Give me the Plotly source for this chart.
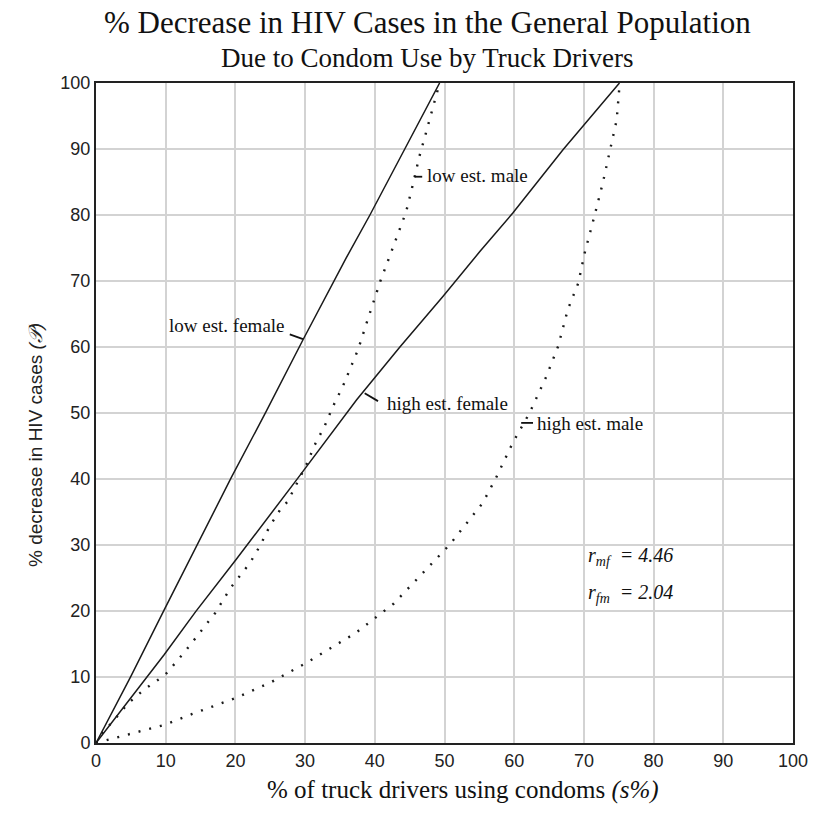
import plotly.graph_objects as go

# ---- data ----
low_female_x = [0, 5.0, 9.8, 14.9, 19.4, 24.4, 29.7, 35.9, 39.3, 44.3, 49.3]
low_female_y = [0, 10.1, 20.2, 30.8, 40.2, 50.2, 61.1, 73.5, 80.0, 90.0, 100]

high_female_x = [0, 9.8, 14.3, 20.1, 28.8, 37.4, 43.6, 49.8, 55.1, 59.8, 67.0, 75.1]
high_female_y = [0, 13.4, 19.9, 27.8, 39.9, 52.0, 60.0, 67.7, 74.5, 80.3, 89.9, 100]

low_male_x = [0, 0.9, 2.6, 4.7, 6.9, 9.9, 12.8, 15.3, 17.1, 19.3, 22.1, 23.6, 24.9, 26.4,
              27.5, 30.2, 31.4, 32.8, 34.0, 35.4, 37.6, 39.0, 40.8, 42.4, 44.5, 45.5,
              46.4, 47.2, 48.1, 48.8, 49.3]
low_male_y = [0, 1.5, 3.5, 6.1, 8.1, 10.3, 13.9, 17.2, 19.7, 23.5, 27.3, 30.0, 32.8, 35.3,
              36.6, 42.2, 45.2, 48.0, 51.0, 54.0, 59.6, 64.2, 70.0, 74.5, 80.5, 84.8,
              88.9, 91.9, 95.4, 98.0, 100]

high_male_x = [0, 6.2, 10.0, 13.8, 17.6, 20.0, 25.1, 30.1, 33.7, 37.3, 40.6, 42.7, 50.7,
               55.5, 57.4, 59.8, 62.2, 64.6, 66.3, 67.7, 69.2, 70.1, 71.5, 72.7, 73.7,
               74.7, 75.1]
high_male_y = [0, 1.8, 2.8, 4.4, 5.9, 6.8, 9.2, 12.1, 14.4, 16.7, 19.4, 21.1, 30.0,
               36.4, 40.2, 45.5, 50.0, 55.5, 60.1, 65.7, 69.7, 74.2, 79.8, 84.8, 89.6,
               94.4, 99.5]

tick_vals = [0, 10, 20, 30, 40, 50, 60, 70, 80, 90, 100]
tick_text = [str(v) for v in tick_vals]

series_labels = ["low est. female", "high est. female", "low est. male", "high est. male"]
r_mf = "4.46"
r_fm = "2.04"
title_lines = ["% Decrease in HIV Cases in the General Population",
               "Due to Condom Use by Truck Drivers"]

SERIF = "Liberation Serif, Times New Roman, serif"
SANS = "Liberation Sans, Arial, sans-serif"

fig = go.Figure()
solid = dict(color="#1a1a1a", width=1.5)
dotted = dict(color="#1a1a1a", width=2.4, dash="2px,9px")
fig.add_trace(go.Scatter(x=low_female_x, y=low_female_y, mode="lines", line=solid,
                         name=series_labels[0], hoverinfo="skip"))
fig.add_trace(go.Scatter(x=high_female_x, y=high_female_y, mode="lines", line=solid,
                         name=series_labels[1], hoverinfo="skip"))
fig.add_trace(go.Scatter(x=low_male_x, y=low_male_y, mode="lines", line=dotted,
                         name=series_labels[2], hoverinfo="skip"))
fig.add_trace(go.Scatter(x=high_male_x, y=high_male_y, mode="lines", line=dotted,
                         name=series_labels[3], hoverinfo="skip"))

# label leader ticks
leaders = [
    ((27.8, 61.9), (29.7, 61.2)),
    ((38.55, 53.0), (40.46, 51.8)),
    ((45.7, 85.8), (46.8, 85.8)),
    ((61.0, 48.5), (62.7, 48.5)),
]
for (x0, y0), (x1, y1) in leaders:
    fig.add_shape(type="line", x0=x0, y0=y0, x1=x1, y1=y1, xref="x", yref="y",
                  line=dict(color="#111111", width=1.8))

lab_font = dict(family=SERIF, size=19, color="#111111")
fig.add_annotation(x=27.4, y=63.2, text=series_labels[0], showarrow=False,
                   xanchor="right", yanchor="middle", font=lab_font)
fig.add_annotation(x=41.4, y=51.4, text=series_labels[1], showarrow=False,
                   xanchor="left", yanchor="middle", font=lab_font)
fig.add_annotation(x=47.2, y=86.0, text=series_labels[2], showarrow=False,
                   xanchor="left", yanchor="middle", font=lab_font)
fig.add_annotation(x=63.0, y=48.4, text=series_labels[3], showarrow=False,
                   xanchor="left", yanchor="middle", font=lab_font)

r_font = dict(family=SERIF, size=20, color="#111111")
fig.add_annotation(x=70.3, y=28.3, text="<i>r<sub>mf</sub>  = " + r_mf + "</i>",
                   showarrow=False, xanchor="left", yanchor="middle", font=r_font)
fig.add_annotation(x=70.3, y=22.7, text="<i>r<sub>fm</sub>  = " + r_fm + "</i>",
                   showarrow=False, xanchor="left", yanchor="middle", font=r_font)

# titles
fig.add_annotation(x=0.475, y=1.0915, xref="paper", yref="paper", text=title_lines[0],
                   showarrow=False, xanchor="center", yanchor="middle",
                   font=dict(family=SERIF, size=31, color="#111111"))
fig.add_annotation(x=0.475, y=1.038, xref="paper", yref="paper", text=title_lines[1],
                   showarrow=False, xanchor="center", yanchor="middle",
                   font=dict(family=SERIF, size=27, color="#111111"))

# axis titles
fig.add_annotation(x=0.526, y=-0.071, xref="paper", yref="paper",
                   text="% of truck drivers using condoms <i>(s%)</i>", showarrow=False,
                   xanchor="center", yanchor="middle",
                   font=dict(family=SERIF, size=25, color="#111111"))
fig.add_annotation(x=-0.087, y=0.452, xref="paper", yref="paper",
                   text="% decrease in HIV cases <i>(𝒫)</i>", showarrow=False,
                   textangle=-90, xanchor="center", yanchor="middle",
                   font=dict(family=SANS, size=19, color="#222222"))

# the page body adds an 8px offset, so the figure is sized to fit inside the window
fig.update_layout(
    width=810, height=823,
    margin=dict(l=88, r=25, t=75, b=88, autoexpand=False),
    paper_bgcolor="white", plot_bgcolor="white",
    showlegend=False,
)
axis_common = dict(range=[0, 100], tickmode="array", tickvals=tick_vals, ticktext=tick_text,
                   showgrid=True, gridcolor="#d3d3d3", gridwidth=2,
                   showline=True, linecolor="#222222", linewidth=2, mirror=True,
                   ticks="", zeroline=False, automargin=False,
                   tickfont=dict(family=SANS, size=18, color="#222222"))
fig.update_xaxes(**axis_common)
fig.update_yaxes(**axis_common)

fig.write_html("out.html")
